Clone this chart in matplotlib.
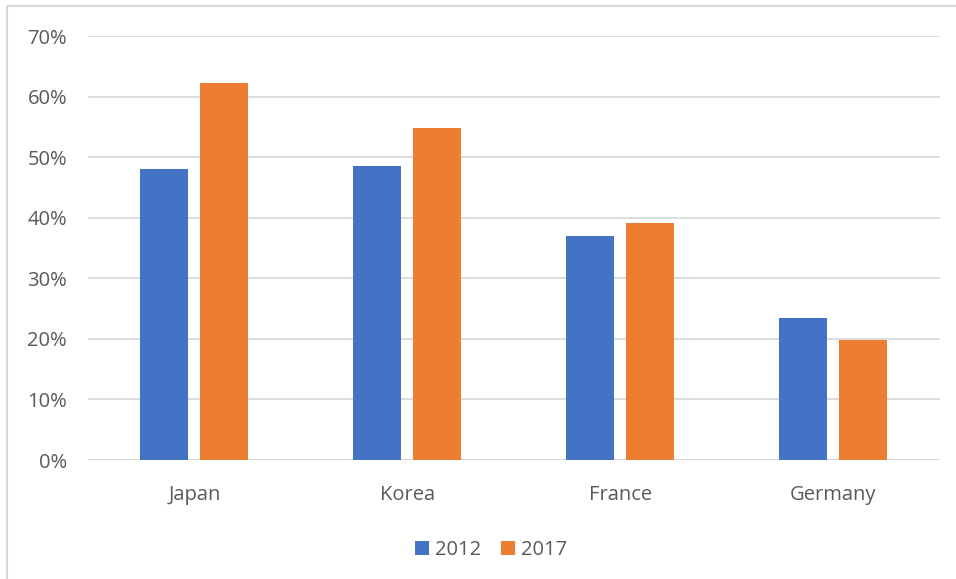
import matplotlib
import numpy as np

matplotlib.use("Agg")
import matplotlib.pyplot as plt  # noqa: E402
from matplotlib.lines import Line2D  # noqa: E402

countries = ["Japan", "Korea", "France", "Germany"]
years = ["2012", "2017"]
share_2012 = [0.480, 0.485, 0.370, 0.234]
share_2017 = [0.622, 0.548, 0.391, 0.198]
y_ticks = [0.0, 0.1, 0.2, 0.3, 0.4, 0.5, 0.6, 0.7]

BLUE = "#4472C4"
ORANGE = "#ED7D31"
TEXT = "#595959"
GRID = "#D9D9D9"
FONT_SIZE = 14.5

plt.rcParams["font.family"] = ["Open Sans", "DejaVu Sans"]

fig = plt.figure(figsize=(9.56, 5.79), dpi=100)
ax = fig.add_axes([0.092, 0.2055, 0.891, 0.7323])

x = np.arange(len(countries))
width = 0.225
offset = 0.141
ax.bar(x - offset, share_2012, width, color=BLUE, label=years[0], zorder=3)
ax.bar(x + offset, share_2017, width, color=ORANGE, label=years[1], zorder=3)

ax.set_xlim(-0.5, len(countries) - 0.5)
ax.set_ylim(0, 0.7)
ax.set_yticks(y_ticks, [f"{t:.0%}" for t in y_ticks])
ax.set_xticks(x, countries)
ax.yaxis.grid(True, color=GRID, linewidth=1.3, zorder=0)
ax.tick_params(axis="both", length=0, labelsize=FONT_SIZE, labelcolor=TEXT)
ax.tick_params(axis="y", pad=15)
ax.tick_params(axis="x", pad=18)
for spine in ax.spines.values():
    spine.set_visible(False)
ax.axhline(0, color=GRID, linewidth=1.3, zorder=2)

# legend is centred on the whole chart area, which runs a little past the right edge
ax.legend(
    loc="upper center",
    bbox_to_anchor=(0.473, -0.145),
    ncol=2,
    frameon=False,
    fontsize=FONT_SIZE,
    labelcolor=TEXT,
    handlelength=0.7,
    handleheight=0.7,
    handletextpad=0.3,
    columnspacing=1.0,
)

# chart-area border along the top and left edges
fig.add_artist(Line2D([0.007, 0.007], [0.0, 0.99], transform=fig.transFigure,
                      color=GRID, linewidth=1.5))
fig.add_artist(Line2D([0.007, 1.0], [0.99, 0.99], transform=fig.transFigure,
                      color=GRID, linewidth=1.5))

fig.savefig("out.png", dpi=100)
